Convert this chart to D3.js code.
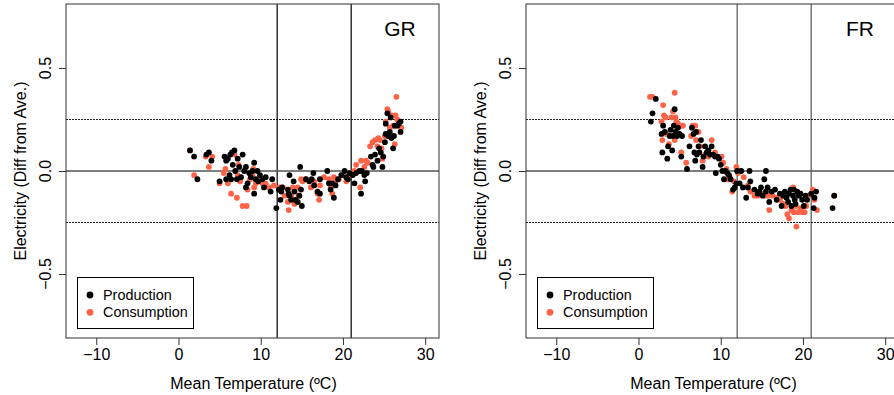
<!DOCTYPE html>
<html>
<head>
<meta charset="utf-8">
<script src="https://cdn.jsdelivr.net/npm/d3@7"></script>
<style>
  body { margin: 0; background: #fff; }
  svg { font-family: "Liberation Sans", Arial, sans-serif; display: block; }
</style>
</head>
<body>
<div id="chart"></div>
<script>
// GR: production (black) and consumption (red), temperature vs electricity diff
const grProdTemp = [1.4,1.9,2.3,3.4,3.7,4.0,5.0,5.6,5.8,6.0,6.3,6.5,6.8,6.6,6.2,5.8,6.4,6.9,7.1,7.2,7.4,7.6,7.8,8.0,8.2,8.2,8.4,8.6,8.8,9.0,9.2,9.2,9.4,9.6,9.7,9.9,10.2,10.4,10.6,11.2,11.4,11.9,12.2,12.5,12.6,12.4,13.3,13.4,13.5,13.5,13.7,14.0,14.1,14.2,14.5,14.7,14.8,14.9,15.0,15.5,15.9,16.2,16.4,16.5,17.2,16.9,17.2,18.1,18.3,18.5,18.7,18.9,19.1,19.4,19.8,20.2,20.4,20.6,20.8,21.2,21.4,21.6,22.0,22.2,22.3,22.6,22.7,22.9,23.4,23.6,23.7,23.9,24.2,24.4,24.6,24.8,24.9,25.1,25.2,25.2,25.4,25.5,25.7,25.8,25.9,26.1,26.2,26.3,26.6,26.8,27.0,27.0];
const grProdElec = [0.10,0.07,-0.04,0.08,0.09,0.05,-0.05,0.07,0.05,0.06,0.08,0.09,0.10,0.03,-0.02,-0.04,-0.04,0.0,-0.04,0.06,0.02,-0.03,0.08,0.0,0.02,-0.08,-0.06,-0.01,-0.03,0.0,0.04,-0.11,-0.04,0.0,-0.05,-0.02,-0.04,-0.08,-0.03,-0.10,-0.04,-0.18,-0.09,-0.10,-0.08,-0.14,-0.09,-0.11,-0.02,-0.12,-0.14,-0.05,-0.10,-0.14,-0.15,-0.12,0.02,-0.09,-0.17,-0.04,-0.05,-0.04,-0.01,-0.07,-0.04,-0.10,-0.11,0.0,-0.06,-0.09,-0.06,-0.13,-0.07,-0.04,-0.02,0.0,-0.03,-0.04,-0.01,-0.02,-0.06,-0.01,0.0,-0.11,0.0,-0.02,-0.05,-0.01,0.07,0.03,0.02,0.08,0.05,0.11,0.09,0.02,0.07,0.14,0.23,0.18,0.28,0.17,0.19,0.26,0.16,0.11,0.17,0.22,0.22,0.23,0.24,0.19];
const grConsTemp = [1.4,1.9,3.3,3.7,4.1,5.0,5.5,5.7,6.0,6.4,6.8,7.1,7.2,7.3,7.5,7.8,8.3,8.4,8.7,9.0,9.1,9.2,9.4,10.2,10.6,11.0,11.6,12.3,12.7,12.9,13.3,13.4,13.7,13.9,14.1,14.5,14.6,14.9,15.1,15.5,16.1,16.5,16.9,17.1,17.2,17.7,18.3,18.5,18.7,18.9,19.1,19.5,19.9,20.4,20.8,21.1,21.4,21.6,22.1,22.2,22.6,22.8,23.0,23.3,23.6,23.9,24.2,24.3,24.5,24.7,24.8,25.1,25.2,25.4,25.5,25.7,25.9,26.1,26.3,26.4,26.5,26.6,27.1];
const grConsElec = [0.10,-0.02,0.07,0.02,0.07,-0.06,-0.01,0.01,-0.06,-0.11,0.08,-0.13,-0.02,0.03,-0.05,-0.17,-0.17,-0.09,-0.04,-0.02,0.01,-0.08,-0.06,-0.06,-0.06,-0.08,-0.07,-0.08,-0.08,-0.12,-0.15,-0.19,-0.12,-0.08,-0.16,-0.08,-0.12,-0.04,-0.05,-0.04,-0.08,-0.05,-0.11,-0.14,-0.07,-0.03,-0.04,-0.08,-0.11,-0.03,-0.05,-0.04,-0.02,-0.05,-0.02,-0.01,0.0,0.03,-0.08,0.05,0.02,0.05,0.04,0.12,0.14,0.15,0.12,0.16,0.15,0.11,0.06,0.17,0.24,0.30,0.29,0.21,0.27,0.22,0.13,0.27,0.36,0.25,0.21];

// FR
const frProdTemp = [1.5,1.7,2.1,2.8,2.9,3.0,3.2,3.5,3.6,3.8,3.9,4.1,4.2,4.3,4.4,4.5,4.7,4.8,5.0,5.2,5.3,5.9,6.2,6.5,6.7,6.8,6.9,7.0,7.1,7.3,7.4,7.6,7.8,7.9,8.1,8.3,8.5,8.7,8.9,9.1,9.3,9.4,9.6,9.8,10.0,10.2,10.4,10.6,10.8,11.0,11.2,11.5,11.7,11.9,12.0,12.3,12.5,12.7,13.1,13.3,13.5,13.6,14.1,14.5,14.7,14.9,15.1,15.3,15.5,15.5,15.7,15.9,16.2,16.6,16.8,17.2,17.4,17.6,17.8,18.0,18.2,18.3,18.5,18.6,18.8,18.9,19.0,19.1,19.3,19.5,19.7,19.9,20.1,20.3,20.5,21.0,21.3,21.4,21.6,23.6,23.8];
const frProdElec = [0.24,0.28,0.35,0.18,0.09,0.22,0.19,0.06,0.12,0.17,0.20,0.10,0.17,0.22,0.30,0.19,0.17,0.21,0.18,0.07,0.17,0.01,0.12,0.21,0.18,0.09,0.05,0.19,0.08,0.12,0.09,0.15,0.02,0.07,0.12,0.09,0.10,0.08,0.12,0.08,0.07,-0.01,0.07,0.06,0.03,0.0,-0.04,0.0,-0.01,-0.02,-0.04,-0.09,-0.08,-0.06,0.0,-0.06,0.0,-0.08,-0.13,-0.08,0.0,-0.05,-0.09,-0.11,-0.10,-0.08,-0.12,-0.04,0.0,-0.10,-0.08,-0.15,-0.10,-0.09,-0.14,-0.11,-0.17,-0.12,-0.10,-0.13,-0.15,-0.11,-0.09,-0.17,-0.12,-0.09,-0.14,-0.16,-0.10,-0.12,-0.11,-0.14,-0.17,-0.12,-0.14,-0.11,-0.18,-0.13,-0.10,-0.18,-0.12];
const frConsTemp = [1.4,1.7,3.0,2.8,3.1,3.3,2.9,3.4,3.7,4.0,4.2,4.4,4.5,4.6,4.8,5.0,5.2,5.4,5.2,4.4,5.8,6.4,6.6,6.9,7.0,7.3,7.5,7.8,8.1,8.5,8.9,9.3,9.7,10.1,10.3,10.7,10.9,11.1,11.4,11.6,11.9,12.1,12.3,12.8,13.3,13.6,14.1,14.5,14.9,15.3,15.7,15.9,16.3,16.8,17.2,17.6,17.9,18.1,18.3,18.6,18.8,18.9,19.1,19.2,19.4,19.7,19.9,20.2,20.4,20.6,21.2,21.4,21.7,23.8];
const frConsElec = [0.36,0.36,0.32,0.24,0.27,0.26,0.15,0.18,0.13,0.26,0.29,0.38,0.26,0.24,0.23,0.22,0.22,0.22,0.09,0.15,0.04,0.17,0.22,0.22,0.15,0.19,0.12,0.05,0.08,0.07,0.15,0.09,0.07,0.07,0.04,0.01,-0.04,-0.03,-0.10,-0.05,0.02,-0.01,0.0,-0.03,-0.07,-0.10,-0.12,-0.12,-0.11,-0.12,-0.12,-0.19,-0.12,-0.13,-0.14,-0.16,-0.17,-0.21,-0.23,-0.19,-0.08,-0.20,-0.17,-0.27,-0.20,-0.18,-0.20,-0.20,-0.17,-0.12,-0.09,-0.14,-0.19,-0.12];

const xTicks = [-10, 0, 10, 20, 30];
const yTicks = [-0.5, 0, 0.5];
const yTickLabels = ["\u22120.5", "0.0", "0.5"];
const xTickLabels = ["\u221210", "0", "10", "20", "30"];
const tempLines = [12, 21];
const bandLines = [-0.25, 0.25];
const legendLabels = ["Production", "Consumption"];

const W = 894, H = 395;
const prodColor = "#000000", consColor = "#ff6347";

const svg = d3.select("#chart").append("svg")
  .attr("width", W).attr("height", H);

function drawPanel(offsetX, name, prodT, prodE, consT, consE, vlineColor) {
  const left = 66, right = 439, top = 4, bottom = 338;
  const g = svg.append("g").attr("transform", `translate(${offsetX},0)`);

  const x = d3.scaleLinear().domain([-13.68, 31.68]).range([left, right]);
  const y = d3.scaleLinear().domain([-0.811, 0.811]).range([bottom, top]);

  // reference lines
  g.selectAll(".vline").data(tempLines).enter().append("line")
    .attr("x1", d => x(d)).attr("x2", d => x(d))
    .attr("y1", top).attr("y2", bottom)
    .attr("stroke", vlineColor).attr("stroke-width", 1.2);
  g.selectAll(".band").data(bandLines).enter().append("line")
    .attr("x1", left).attr("x2", right)
    .attr("y1", d => y(d)).attr("y2", d => y(d))
    .attr("stroke", "#000").attr("stroke-width", 0.9)
    .attr("stroke-dasharray", "2,1");
  g.append("line")
    .attr("x1", left).attr("x2", right)
    .attr("y1", y(0)).attr("y2", y(0))
    .attr("stroke", "#555").attr("stroke-width", 1.4);

  // points
  const cons = consT.map((t, i) => [t, consE[i]]);
  const prod = prodT.map((t, i) => [t, prodE[i]]);
  g.selectAll(".cons").data(cons).enter().append("circle")
    .attr("cx", d => x(d[0])).attr("cy", d => y(d[1]))
    .attr("r", 2.9).attr("fill", consColor);
  g.selectAll(".prod").data(prod).enter().append("circle")
    .attr("cx", d => x(d[0])).attr("cy", d => y(d[1]))
    .attr("r", 2.9).attr("fill", prodColor);

  // box
  g.append("rect")
    .attr("x", left).attr("y", top)
    .attr("width", right - left).attr("height", bottom - top)
    .attr("fill", "none").attr("stroke", "#333").attr("stroke-width", 1);

  // x axis
  const xAxis = g.append("g").attr("transform", `translate(0,${bottom})`)
    .call(d3.axisBottom(x).tickValues(xTicks).tickSize(7).tickPadding(4)
      .tickFormat((d, i) => xTickLabels[i]));
  xAxis.select(".domain").remove();
  xAxis.selectAll("line").attr("stroke", "#333");
  xAxis.selectAll("text").attr("font-size", 16).attr("fill", "#000")
    .attr("font-family", "Liberation Sans, Arial, sans-serif");

  // y axis, labels rotated as in R
  const yAxis = g.append("g").attr("transform", `translate(${left},0)`)
    .call(d3.axisLeft(y).tickValues(yTicks).tickSize(7).tickFormat(""));
  yAxis.select(".domain").remove();
  yAxis.selectAll("line").attr("stroke", "#333");
  g.selectAll(".ylab").data(yTicks).enter().append("text")
    .attr("transform", (d) => `translate(45,${y(d)}) rotate(-90)`)
    .attr("text-anchor", "middle").attr("dy", "0.36em")
    .attr("font-size", 16)
    .text((d, i) => yTickLabels[i]);

  // titles
  g.append("text").attr("x", (left + right) / 2 + 1).attr("y", 389)
    .attr("text-anchor", "middle").attr("font-size", 16)
    .text("Mean Temperature (\u00baC)");
  g.append("text")
    .attr("transform", `translate(20,${(top + bottom) / 2}) rotate(-90)`)
    .attr("text-anchor", "middle").attr("dy", "0.36em").attr("font-size", 16)
    .text("Electricity (Diff from Ave.)");
  g.append("text").attr("x", 400).attr("y", 36)
    .attr("text-anchor", "middle").attr("font-size", 21)
    .text(name);

  // legend
  const lg = g.append("g");
  lg.append("rect").attr("x", 77.5).attr("y", 277.5)
    .attr("width", 116).attr("height", 51)
    .attr("fill", "#fff").attr("stroke", "#000").attr("stroke-width", 1);
  const legColors = [prodColor, consColor];
  legendLabels.forEach((lab, i) => {
    lg.append("circle").attr("cx", 90).attr("cy", 295 + i * 17.3)
      .attr("r", 3.4).attr("fill", legColors[i]);
    lg.append("text").attr("x", 103).attr("y", 295 + i * 17.3)
      .attr("dy", "0.36em").attr("font-size", 14.4).text(lab);
  });
}

drawPanel(0, "GR", grProdTemp, grProdElec, grConsTemp, grConsElec, "#000");
drawPanel(460, "FR", frProdTemp, frProdElec, frConsTemp, frConsElec, "#555");
</script>
</body>
</html>
